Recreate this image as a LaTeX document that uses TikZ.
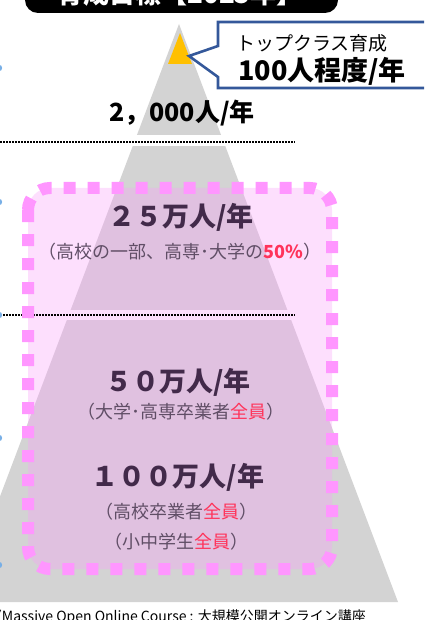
\documentclass[tikz,border=0pt]{standalone}
\usepackage{fontspec}
\setmainfont{Noto Sans CJK JP}
\usetikzlibrary{positioning}
\definecolor{pyrgray}{RGB}{211,211,211}
\definecolor{tipyellow}{RGB}{255,192,0}
\definecolor{calloutblue}{RGB}{52,88,154}
\definecolor{boxpink}{RGB}{255,150,255}
\definecolor{fillpink}{RGB}{250,160,250}
\definecolor{headcol}{RGB}{66,42,74}
\definecolor{subcol}{RGB}{96,78,102}
\definecolor{hired}{RGB}{255,51,90}
\definecolor{dotblue}{RGB}{120,175,230}
\tikzset{toptxt/.style={inner sep=0pt,text=black,font=\bfseries\fontsize{25}{28}\selectfont},
         headtxt/.style={inner sep=0pt,text=headcol,font=\bfseries\fontsize{27}{30}\selectfont},
         subtxt/.style={inner sep=0pt,text=subcol,font=\fontsize{18}{21}\selectfont},
         callout/.style={draw=calloutblue,line width=2.6pt,fill=white,line join=miter},
         sepline/.style={black,line width=1.5pt,dash pattern=on 1.5pt off 1.5pt},
         pinkbox/.style={boxpink,line width=12pt,rounded corners=22pt,dash pattern=on 12pt off 12pt}
}

\begin{document}
\begin{tikzpicture}[x=1pt,y=-1pt]
\useasboundingbox (0,0) rectangle (424,620);
\clip (0,0) rectangle (424,620);
% title bar, cut off at the top
\fill[black,rounded corners=13pt] (25,-40) rectangle (338,13);
\node[anchor=base,inner sep=0pt,text=white,font=\bfseries\fontsize{26}{28}\selectfont] (title) at (180,4) {育成目標【2025年】};
% pyramid
\fill[pyrgray] (179,24) -- (398,602) -- (-40,602) -- cycle;
\fill[tipyellow] (180,33) -- (192,64) -- (168,64) -- cycle;
\coordinate (tip) at (189,56);
\fill[white] (0,135) rectangle (424,146);
\fill[white] (0,310) rectangle (424,320);
% pink target box
\fill[fillpink,fill opacity=0.34,rounded corners=22pt] (28,188) rectangle (332,569);
\draw[sepline] (0,142) -- (295,142);
\draw[sepline] (0,315) -- (295,315);
\draw[pinkbox] (28,188) rectangle (332,569);
% blue bullets at the left edge
\foreach \y in {68,202,315,438,565}
    \fill[dotblue] (-1,\y) circle (3.2);
% callout
\draw[callout] (218,22) -- (440,22) -- (440,88) -- (218,88) -- (218,77) -- (tip) -- (218,46) -- cycle;
\node[anchor=west,inner sep=0pt,font=\fontsize{19}{22}\selectfont] (top1) at (236,43) {トップクラス育成};
\node[anchor=west,inner sep=0pt,font=\bfseries\fontsize{27}{30}\selectfont] (top2) at (238,71) {100人程度/年};
% levels
\node[toptxt] (n2000) at (182,113) {2，000人/年};
\node[headtxt] (n25) at (181,217) {２５万人/年};
\node[subtxt] (s25) at (180,252) {（高校の一部、高専･大学の\textcolor{hired}{\bfseries 50\%}）};
\node[headtxt] (n50) at (178,382) {５０万人/年};
\node[subtxt] (s50) at (181,412) {（大学･高専卒業者\textcolor{hired}{全員}）};
\node[headtxt] (n100) at (178,477) {１００万人/年};
\node[subtxt] (s100a) at (176,512) {（高校卒業者\textcolor{hired}{全員}）};
\node[subtxt] (s100b) at (176,542) {（小中学生\textcolor{hired}{全員}）};
% footnote, cut off at the bottom
\node[anchor=base west,inner sep=0pt,font=\fontsize{14}{16}\selectfont] (note) at (-3,621) {(Massive Open Online Course : 大規模公開オンライン講座};
\end{tikzpicture}
\end{document}
